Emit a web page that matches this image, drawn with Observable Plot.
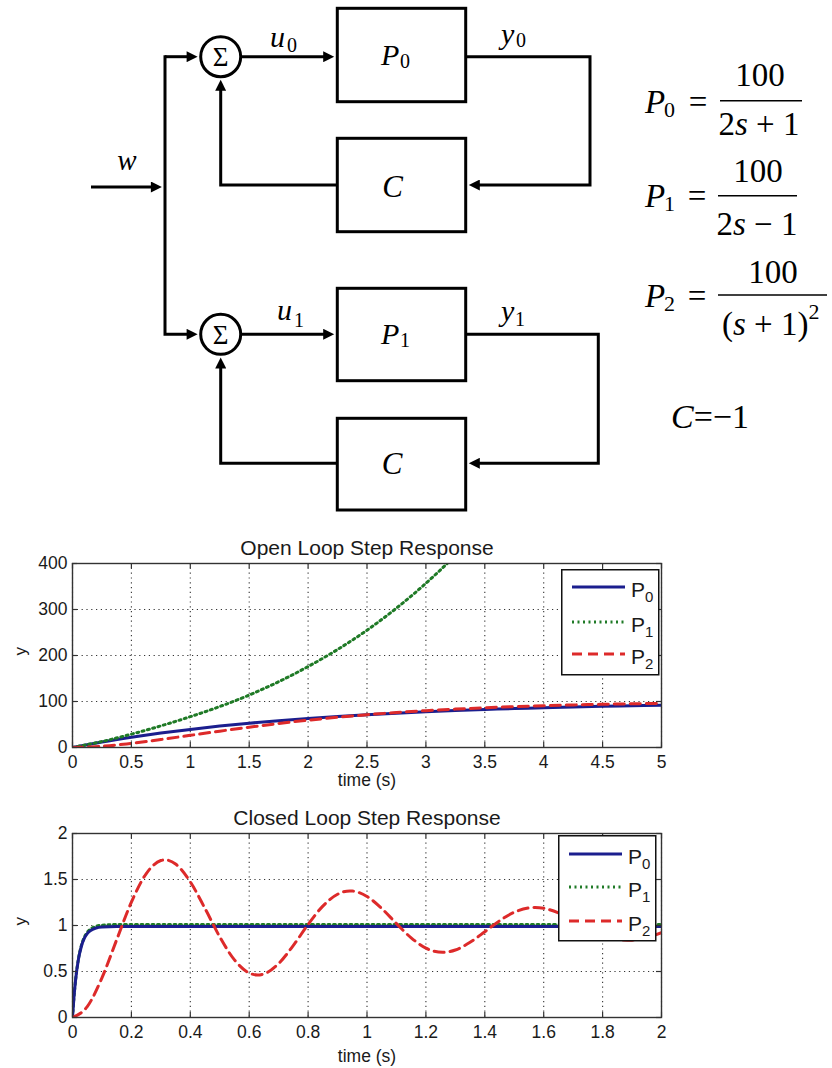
<!DOCTYPE html>
<html>
<head>
<meta charset="utf-8">
<script src="https://cdn.jsdelivr.net/npm/d3@7"></script>
<script src="https://cdn.jsdelivr.net/npm/@observablehq/plot@0.6"></script>
<style>
  html, body { margin: 0; padding: 0; background: #fff; }
  body { width: 832px; height: 1068px; position: relative; overflow: hidden; }
  #diagram { position: absolute; left: 0; top: 0; }
  #diagram .ln { fill: none; stroke: #000; stroke-width: 3; stroke-linejoin: miter; }
  #diagram text { font-family: "Liberation Serif", "Times New Roman", serif; fill: #000; }
  .chart { position: absolute; left: 0; width: 832px; }
  .legend { position: absolute; }
</style>
</head>
<body>
<svg id="diagram" width="832" height="520" xmlns="http://www.w3.org/2000/svg">
  <defs>
    <marker id="ah" viewBox="0 0 10 10" refX="2" refY="5" markerWidth="13" markerHeight="11" markerUnits="userSpaceOnUse" orient="auto">
      <path d="M0,0L10,5L0,10z" fill="#000"/>
    </marker>
  </defs>
  <!-- input w -->
  <path class="ln" d="M91,187 L153.1,187" marker-end="url(#ah)"/>
  <text x="127" y="170" font-size="29" font-style="italic" text-anchor="middle">w</text>
  <!-- split -->
  <path class="ln" d="M165,56.7 L188.8,56.7" marker-end="url(#ah)"/>
  <path class="ln" d="M165,55.2 L165,334.3 L188.8,334.3" marker-end="url(#ah)"/>

  <!-- loop 0 -->
  <circle cx="220.7" cy="56.7" r="20" fill="none" stroke="#000" stroke-width="3"/>
  <text x="220.7" y="66" font-size="27" text-anchor="middle">Σ</text>
  <path class="ln" d="M240.7,56.7 L325.4,56.7" marker-end="url(#ah)"/>
  <text x="270" y="46.7" font-size="30" font-style="italic">u</text>
  <text x="287" y="51.7" font-size="20">0</text>
  <rect x="337.3" y="8.3" width="128.4" height="93.4" fill="none" stroke="#000" stroke-width="3"/>
  <text x="381" y="64.5" font-size="30" font-style="italic">P</text>
  <text x="400" y="67.5" font-size="20">0</text>
  <path class="ln" d="M465.7,56.7 L590,56.7 L590,185 L477.6,185" marker-end="url(#ah)"/>
  <text x="501" y="44" font-size="30" font-style="italic">y</text>
  <text x="516" y="47" font-size="20">0</text>
  <rect x="337.3" y="138.3" width="128.4" height="93.4" fill="none" stroke="#000" stroke-width="3"/>
  <text x="392.5" y="196.5" font-size="31" font-style="italic" text-anchor="middle">C</text>
  <path class="ln" d="M337.3,185 L220.7,185 L220.7,88.6" marker-end="url(#ah)"/>

  <!-- loop 1 -->
  <circle cx="220.7" cy="334.3" r="20" fill="none" stroke="#000" stroke-width="3"/>
  <text x="220.7" y="343.6" font-size="27" text-anchor="middle">Σ</text>
  <path class="ln" d="M240.7,334.3 L325.4,334.3" marker-end="url(#ah)"/>
  <text x="277" y="320" font-size="30" font-style="italic">u</text>
  <text x="294" y="326.5" font-size="20">1</text>
  <rect x="337.3" y="288.3" width="128.4" height="92.4" fill="none" stroke="#000" stroke-width="3"/>
  <text x="381" y="343.5" font-size="30" font-style="italic">P</text>
  <text x="400" y="346.5" font-size="20">1</text>
  <path class="ln" d="M465.7,334.3 L598.3,334.3 L598.3,463.3 L477.6,463.3" marker-end="url(#ah)"/>
  <text x="501" y="321" font-size="30" font-style="italic">y</text>
  <text x="515" y="326" font-size="20">1</text>
  <rect x="337.3" y="418.3" width="128.4" height="91.7" fill="none" stroke="#000" stroke-width="3"/>
  <text x="392" y="473.5" font-size="31" font-style="italic" text-anchor="middle">C</text>
  <path class="ln" d="M337.3,463.3 L220.7,463.3 L220.7,366.2" marker-end="url(#ah)"/>

  <!-- equations -->
  <text x="645" y="113" font-size="33" font-style="italic">P</text>
  <text x="664" y="117" font-size="22">0</text>
  <text x="698" y="113" font-size="33" text-anchor="middle">=</text>
  <line x1="720" x2="802" y1="100.7" y2="100.7" stroke="#000" stroke-width="1.6"/>
  <text x="760" y="86" font-size="33" text-anchor="middle">100</text>
  <text x="759" y="135" font-size="33" text-anchor="middle">2<tspan font-style="italic">s</tspan> + 1</text>

  <text x="645" y="207" font-size="33" font-style="italic">P</text>
  <text x="664" y="211" font-size="22">1</text>
  <text x="697" y="207" font-size="33" text-anchor="middle">=</text>
  <line x1="718" x2="797" y1="195.7" y2="195.7" stroke="#000" stroke-width="1.6"/>
  <text x="758" y="181.7" font-size="33" text-anchor="middle">100</text>
  <text x="757" y="235" font-size="33" text-anchor="middle">2<tspan font-style="italic">s</tspan> − 1</text>

  <text x="645" y="307" font-size="33" font-style="italic">P</text>
  <text x="664" y="311" font-size="22">2</text>
  <text x="697" y="307" font-size="33" text-anchor="middle">=</text>
  <line x1="718" x2="827" y1="295" y2="295" stroke="#000" stroke-width="1.6"/>
  <text x="773" y="283.3" font-size="33" text-anchor="middle">100</text>
  <text x="722" y="335" font-size="33">(<tspan font-style="italic">s</tspan> + 1)<tspan font-size="22" dy="-16">2</tspan></text>

  <text x="671" y="428" font-size="34"><tspan font-style="italic">C</tspan>=−1</text>
</svg>

<div id="open" class="chart" style="top:528px"></div>
<div id="closed" class="chart" style="top:798px"></div>

<script>
// ---------------- data ----------------
const seriesNames = ["P0", "P1", "P2"];

// Open loop step response
const openTime = [0,0.25,0.5,0.75,1,1.25,1.5,1.75,2,2.25,2.5,2.75,3,3.25,3.5,3.75,4,4.25,4.5,4.75,5];
const openP0 = [0,11.8,22.1,31.3,39.3,46.5,52.8,58.3,63.2,67.5,71.3,74.7,77.7,80.3,82.6,84.7,86.5,88.1,89.5,90.7,91.8];
const openP1Time = [0,0.25,0.5,0.75,1,1.25,1.5,1.75,2,2.25,2.5,2.75,3,3.25,3.5];
const openP1 = [0,13,29,47,67,89,114,143,176,213,255,303,357,418,490];
const openP2 = [0,2.6,9.0,17.3,26.4,35.5,44.2,52.2,59.4,65.7,71.3,76.0,80.1,83.5,86.4,88.8,90.8,92.5,93.9,95.0,96.0];
const openTicksX = [0,0.5,1,1.5,2,2.5,3,3.5,4,4.5,5];
const openTicksY = [0,100,200,300,400];

// Closed loop step response
const closedTime01 = [0,0.005,0.01,0.02,0.03,0.04,0.05,0.06,0.08,0.1,0.15,2];
const closedP0 = [0,0.221,0.393,0.630,0.772,0.859,0.911,0.942,0.973,0.984,0.990,0.990];
const closedP1 = [0,0.222,0.394,0.635,0.781,0.871,0.925,0.958,0.991,1.003,1.010,1.010];
const closedTime2 = [0,0.05,0.1,0.15,0.2,0.25,0.3,0.314,0.35,0.4,0.45,0.5,0.55,0.6,0.628,0.65,0.7,0.75,0.8,0.85,0.9,0.942,0.95,1.0,1.05,1.1,1.15,1.2,1.257,1.3,1.35,1.4,1.45,1.5,1.55,1.571,1.6,1.65,1.7,1.75,1.8,1.85,1.885,1.9,1.95,2.0];
const closedP2 = [0,0.118,0.431,0.845,1.254,1.562,1.706,1.713,1.668,1.474,1.185,0.877,0.626,0.484,0.462,0.474,0.587,0.784,1.011,1.211,1.340,1.376,1.375,1.315,1.185,1.021,0.866,0.754,0.708,0.734,0.817,0.932,1.051,1.144,1.191,1.196,1.187,1.137,1.057,0.969,0.894,0.849,0.840,0.841,0.869,0.923];
const closedTicksX = [0,0.2,0.4,0.6,0.8,1,1.2,1.4,1.6,1.8,2];
const closedTicksY = [0,0.5,1,1.5,2];

// ---------------- styles ----------------
const seriesStyle = {
  P0: {color: "#1b1e8e", dash: null},
  P1: {color: "#1f7a26", dash: "2,3.5"},
  P2: {color: "#dd2a2a", dash: "10,6"}
};

function toRows(ts, vs) { return ts.map((t, i) => ({t, v: vs[i]})); }

function chart({title, ticksX, ticksY, xDomain, yDomain, series, marginBottom, xLabelDy}) {
  const W = 832, ML = 72, MR = 171, MT = 35, innerH = 184;
  const innerW = W - ML - MR;
  const grid = {stroke: "#111", strokeOpacity: 0.85, strokeWidth: 1.1, strokeDasharray: "1.2,3.6"};
  const tick = {stroke: "#333", strokeWidth: 1.2};
  return Plot.plot({
    width: W,
    height: MT + innerH + marginBottom,
    marginLeft: ML, marginRight: MR, marginTop: MT, marginBottom,
    x: {domain: xDomain},
    y: {domain: yDomain},
    style: {fontFamily: "'Liberation Sans', Arial, sans-serif", fontSize: "17px", color: "#1a1a1a", background: "transparent", overflow: "visible"},
    marks: [
      Plot.ruleX(ticksX, {x: d => d, ...grid}),
      Plot.ruleY(ticksY, {y: d => d, ...grid}),
      ...series.map(s => Plot.line(s.rows, {
        x: "t", y: "v",
        stroke: seriesStyle[s.name].color,
        strokeWidth: 3,
        strokeDasharray: seriesStyle[s.name].dash,
        curve: s.curve,
        clip: true
      })),
      Plot.tickX(ticksX, {x: d => d, insetTop: innerH - 5, ...tick}),
      Plot.tickX(ticksX, {x: d => d, insetBottom: innerH - 5, ...tick}),
      Plot.tickY(ticksY, {y: d => d, insetRight: innerW - 5, ...tick}),
      Plot.tickY(ticksY, {y: d => d, insetLeft: innerW - 5, ...tick}),
      Plot.frame({stroke: "#333", strokeWidth: 1.4}),
      Plot.axisX(ticksX, {tickSize: 0, tickPadding: 8, label: null, fontSize: 17.5, tickFormat: d => String(d)}),
      Plot.axisY(ticksY, {tickSize: 0, tickPadding: 5, label: null, fontSize: 17.5, tickFormat: d => String(d)}),
      Plot.text([title], {text: d => d, frameAnchor: "top", lineAnchor: "bottom", dy: -9, fontSize: 21}),
      Plot.text(["time (s)"], {text: d => d, frameAnchor: "bottom", lineAnchor: "middle", dy: xLabelDy, fontSize: 17.5}),
      Plot.text(["y"], {text: d => d, frameAnchor: "left", dx: -52, rotate: -90, fontSize: 17})
    ]
  });
}

function legend(container, left, top, rowYs) {
  const svg = d3.select(container).append("svg")
    .attr("class", "legend")
    .attr("width", 100).attr("height", 108)
    .style("left", left + "px").style("top", top + "px");
  svg.append("rect").attr("x", 0.75).attr("y", 0.75).attr("width", 97).attr("height", 105)
    .attr("fill", "#fff").attr("stroke", "#111").attr("stroke-width", 1.5);
  seriesNames.forEach((name, i) => {
    const y = rowYs[i];
    const st = seriesStyle[name];
    svg.append("line").attr("x1", 11).attr("x2", 64).attr("y1", y).attr("y2", y)
      .attr("stroke", st.color).attr("stroke-width", 3)
      .attr("stroke-dasharray", st.dash);
    const t = svg.append("text").attr("x", 70).attr("y", y + 10)
      .attr("font-family", "'Liberation Sans', Arial, sans-serif").attr("font-size", 21).attr("fill", "#1a1a1a");
    t.append("tspan").text(name[0]);
    t.append("tspan").attr("font-size", 15).attr("dy", 5).text(name.slice(1));
  });
}

const openEl = document.getElementById("open");
openEl.append(chart({
  title: "Open Loop Step Response",
  ticksX: openTicksX, ticksY: openTicksY,
  xDomain: [0, 5], yDomain: [0, 400],
  series: [
    {name: "P0", rows: toRows(openTime, openP0), curve: "catmull-rom"},
    {name: "P1", rows: toRows(openP1Time, openP1), curve: "catmull-rom"},
    {name: "P2", rows: toRows(openTime, openP2), curve: "catmull-rom"}
  ],
  marginBottom: 42, xLabelDy: 33
}));
legend(openEl, 561, 41, [18, 53, 85]);

const closedEl = document.getElementById("closed");
closedEl.append(chart({
  title: "Closed Loop Step Response",
  ticksX: closedTicksX, ticksY: closedTicksY,
  xDomain: [0, 2], yDomain: [0, 2],
  series: [
    {name: "P1", rows: toRows(closedTime01, closedP1), curve: "monotone-x"},
    {name: "P0", rows: toRows(closedTime01, closedP0), curve: "monotone-x"},
    {name: "P2", rows: toRows(closedTime2, closedP2), curve: "monotone-x"}
  ],
  marginBottom: 50, xLabelDy: 39
}));
legend(closedEl, 558, 37, [19, 52, 86]);
</script>
</body>
</html>
